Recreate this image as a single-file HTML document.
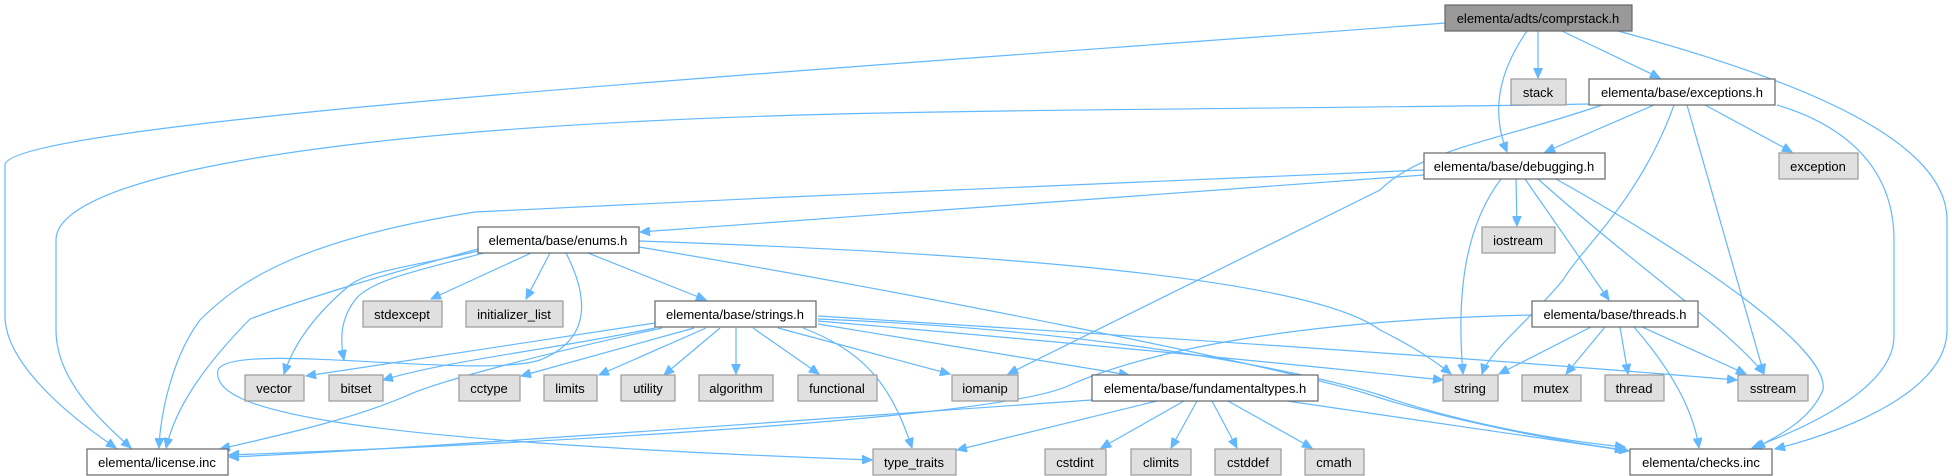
<!DOCTYPE html>
<html><head><meta charset="utf-8"><style>
html,body{margin:0;padding:0;background:#fff;}
svg{display:block;}
text{font-family:"Liberation Sans",Arial,sans-serif;font-size:13px;fill:#000;text-anchor:middle;}
.e{fill:none;stroke:#63b8ff;stroke-width:1.2;marker-end:url(#a);}
.w{fill:#fff;stroke:#666;stroke-width:1.2;}
.g{fill:#e0e0e0;stroke:#999;stroke-width:1.2;}
.r{fill:#999;stroke:#666;stroke-width:1.2;}
</style></head><body>
<svg width="1952" height="476" viewBox="0 0 1952 476" xmlns="http://www.w3.org/2000/svg">
<defs><marker id="a" markerWidth="11" markerHeight="9" refX="10" refY="4.5" orient="auto" markerUnits="userSpaceOnUse"><path d="M0,0 L10,4.5 L0,9 z" fill="#63b8ff" stroke="#63b8ff"/></marker></defs>
<!-- comprstack edges -->
<path class="e" d="M1445,23 C900,65 5,120 5,165 L5,316 C5,360 60,410 116,448"/>
<path class="e" d="M1538,31 L1538,78"/>
<path class="e" d="M1562,31 L1660,78"/>
<path class="e" d="M1527,31 C1500,70 1490,110 1507,152"/>
<path class="e" d="M1618,31 C1800,80 1947,140 1947,220 L1947,330 C1947,390 1850,430 1775,449"/>
<!-- exceptions edges -->
<path class="e" d="M1589,104 C1400,108 1000,109 800,115 C300,130 56,180 56,240 L56,330 C56,380 100,420 131,448"/>
<path class="e" d="M1602,105 C1500,140 1420,150 1380,190 L1008,374"/>
<path class="e" d="M1654,105 L1545,152"/>
<path class="e" d="M1674,105 C1640,200 1580,250 1563,280 C1530,320 1490,350 1482,374"/>
<path class="e" d="M1687,105 L1764,374"/>
<path class="e" d="M1705,105 L1792,152"/>
<path class="e" d="M1777,105 C1860,130 1894,180 1894,240 L1894,336 C1894,390 1800,430 1752,448"/>
<!-- debugging edges -->
<path class="e" d="M1424,170 C1200,180 800,195 475,212 C300,240 240,280 200,320 C170,360 160,420 159,448"/>
<path class="e" d="M1424,175 L640,232"/>
<path class="e" d="M1501,179 C1470,220 1455,280 1463,374"/>
<path class="e" d="M1516,179 L1517,226"/>
<path class="e" d="M1525,179 L1609,300"/>
<path class="e" d="M1538,179 C1640,270 1730,330 1764,374"/>
<path class="e" d="M1556,179 C1700,260 1830,350 1823,390 C1810,420 1780,435 1755,448"/>
<!-- threads edges -->
<path class="e" d="M1532,315 C1300,320 1150,350 1070,385 C1000,420 500,445 229,455"/>
<path class="e" d="M1591,327 L1499,374"/>
<path class="e" d="M1605,327 L1566,374"/>
<path class="e" d="M1620,327 L1628,374"/>
<path class="e" d="M1642,327 L1746,374"/>
<path class="e" d="M1634,327 C1680,380 1695,420 1699,448"/>
<!-- enums edges -->
<path class="e" d="M478,249 C400,270 300,300 250,319 C200,370 175,410 166,448"/>
<path class="e" d="M478,251 C420,265 370,270 350,285 C320,310 295,340 284,374"/>
<path class="e" d="M484,253 C420,270 370,280 355,300 C340,320 340,340 344,360"/>
<path class="e" d="M531,253 L431,299"/>
<path class="e" d="M550,253 L526,299"/>
<path class="e" d="M566,253 C590,300 590,340 540,360 C480,380 230,340 218,370 C210,410 330,440 872,460"/>
<path class="e" d="M588,253 L706,300"/>
<path class="e" d="M639,241 C900,250 1300,270 1380,330 C1420,350 1440,365 1451,374"/>
<path class="e" d="M639,247 C900,290 1300,370 1377,397 C1450,420 1550,440 1625,450"/>
<!-- strings edges -->
<path class="e" d="M655,323 L306,376"/>
<path class="e" d="M655,328 C550,350 450,360 383,380"/>
<path class="e" d="M662,328 C560,350 440,380 406,396 C350,420 280,435 220,449"/>
<path class="e" d="M803,328 C860,350 890,380 912,448"/>
<path class="e" d="M694,328 L521,376"/>
<path class="e" d="M706,328 L599,375"/>
<path class="e" d="M720,328 L664,375"/>
<path class="e" d="M736,328 L736,374"/>
<path class="e" d="M753,328 L819,374"/>
<path class="e" d="M778,328 L950,374"/>
<path class="e" d="M818,324 L1129,375"/>
<path class="e" d="M818,321 C1100,345 1300,365 1443,380"/>
<path class="e" d="M818,316 C1200,340 1500,360 1737,380"/>
<path class="e" d="M818,319 C1100,330 1300,370 1380,395 C1450,420 1550,440 1625,447"/>
<!-- fundamentaltypes edges -->
<path class="e" d="M1092,400 C800,420 400,450 229,457"/>
<path class="e" d="M1157,401 L957,450"/>
<path class="e" d="M1184,401 L1101,448"/>
<path class="e" d="M1197,401 L1171,448"/>
<path class="e" d="M1212,401 L1237,448"/>
<path class="e" d="M1228,401 L1312,448"/>
<path class="e" d="M1287,401 L1629,451"/>
<!-- nodes -->
<rect class="r" x="1445" y="5" width="187" height="26"/><text x="1538" y="23">elementa/adts/comprstack.h</text>
<rect class="g" x="1511" y="79" width="55" height="26"/><text x="1538" y="97">stack</text>
<rect class="w" x="1589" y="79" width="186" height="26"/><text x="1682" y="97">elementa/base/exceptions.h</text>
<rect class="w" x="1424" y="153" width="181" height="26"/><text x="1514" y="171">elementa/base/debugging.h</text>
<rect class="g" x="1779" y="153" width="79" height="26"/><text x="1818" y="171">exception</text>
<rect class="g" x="1482" y="227" width="73" height="26"/><text x="1518" y="245">iostream</text>
<rect class="w" x="478" y="227" width="161" height="26"/><text x="558" y="245">elementa/base/enums.h</text>
<rect class="g" x="363" y="301" width="79" height="26"/><text x="402" y="319">stdexcept</text>
<rect class="g" x="466" y="301" width="97" height="26"/><text x="514" y="319">initializer_list</text>
<rect class="w" x="655" y="301" width="161" height="26"/><text x="735" y="319">elementa/base/strings.h</text>
<rect class="w" x="1532" y="301" width="166" height="26"/><text x="1615" y="319">elementa/base/threads.h</text>
<rect class="g" x="245" y="375" width="59" height="26"/><text x="274" y="393">vector</text>
<rect class="g" x="329" y="375" width="54" height="26"/><text x="356" y="393">bitset</text>
<rect class="g" x="459" y="375" width="61" height="26"/><text x="489" y="393">cctype</text>
<rect class="g" x="544" y="375" width="53" height="26"/><text x="570" y="393">limits</text>
<rect class="g" x="621" y="375" width="54" height="26"/><text x="648" y="393">utility</text>
<rect class="g" x="699" y="375" width="74" height="26"/><text x="736" y="393">algorithm</text>
<rect class="g" x="798" y="375" width="79" height="26"/><text x="837" y="393">functional</text>
<rect class="g" x="952" y="375" width="66" height="26"/><text x="985" y="393">iomanip</text>
<rect class="w" x="1092" y="375" width="226" height="26"/><text x="1205" y="393">elementa/base/fundamentaltypes.h</text>
<rect class="g" x="1443" y="375" width="55" height="26"/><text x="1470" y="393">string</text>
<rect class="g" x="1522" y="375" width="59" height="26"/><text x="1551" y="393">mutex</text>
<rect class="g" x="1605" y="375" width="59" height="26"/><text x="1634" y="393">thread</text>
<rect class="g" x="1738" y="375" width="70" height="26"/><text x="1773" y="393">sstream</text>
<rect class="w" x="87" y="449" width="141" height="26"/><text x="157" y="467">elementa/license.inc</text>
<rect class="g" x="873" y="449" width="83" height="26"/><text x="914" y="467">type_traits</text>
<rect class="g" x="1045" y="449" width="61" height="26"/><text x="1075" y="467">cstdint</text>
<rect class="g" x="1131" y="449" width="60" height="26"/><text x="1161" y="467">climits</text>
<rect class="g" x="1215" y="449" width="66" height="26"/><text x="1248" y="467">cstddef</text>
<rect class="g" x="1305" y="449" width="59" height="26"/><text x="1334" y="467">cmath</text>
<rect class="w" x="1630" y="449" width="142" height="26"/><text x="1701" y="467">elementa/checks.inc</text>
</svg>
</body></html>
